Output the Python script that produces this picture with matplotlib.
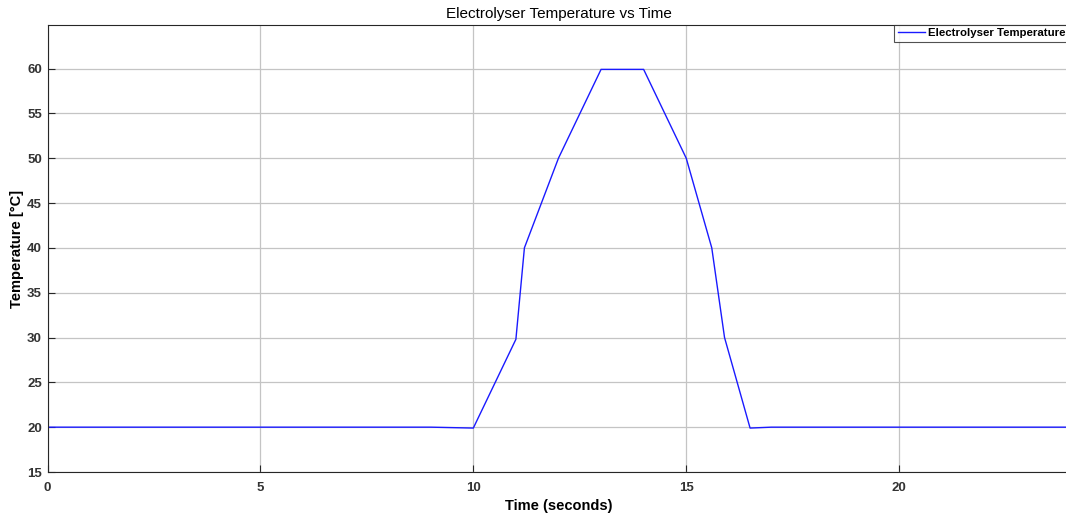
import matplotlib
matplotlib.use("Agg")
import matplotlib.pyplot as plt

# Electrolyser temperature profile (time in seconds, temperature in °C)
time_s = [0, 9, 10, 11, 11.2, 12, 13, 14, 15, 15.6, 15.9, 16.5, 17, 24]
temp_c = [20, 20, 19.9, 29.8, 40, 50, 59.9, 59.9, 50, 40, 30, 19.9, 20, 20]

x_ticks = [0, 5, 10, 15, 20]
y_ticks = [15, 20, 25, 30, 35, 40, 45, 50, 55, 60]

plt.rcParams['font.family'] = ['Liberation Sans', 'DejaVu Sans']

fig = plt.figure(figsize=(10.66, 5.2), dpi=100)
ax = fig.add_axes([0.0446, 0.0923, 0.9586, 0.8596])

ax.plot(time_s, temp_c, color='#1a1aff', linewidth=1.0, label='Electrolyser Temperature')

ax.set_xlim(0, 24)
ax.set_ylim(15, 64.85)
ax.set_xticks(x_ticks)
ax.set_yticks(y_ticks)

ax.grid(True, color='#c4c4c4', linewidth=0.9)
ax.set_axisbelow(True)
ax.tick_params(direction='in', length=5, width=0.8, colors='#262626',
               labelcolor='#333333', labelsize=9.5)
ax.tick_params(axis='x', pad=7.5)
ax.tick_params(axis='y', pad=4)
for lbl in ax.get_xticklabels() + ax.get_yticklabels():
    lbl.set_fontweight('bold')
for sp in ax.spines.values():
    sp.set_color('#262626')
    sp.set_linewidth(0.8)

ax.set_title('Electrolyser Temperature vs Time', fontsize=11, color='#000000', pad=5)
ax.set_xlabel('Time (seconds)', fontsize=10.5, fontweight='bold', labelpad=3)
ax.set_ylabel('Temperature [°C]', fontsize=10.5, fontweight='bold', labelpad=2)

leg = ax.legend(loc='upper right', prop={'weight': 'bold', 'size': 8.2},
                frameon=True, fancybox=False, borderpad=0.3, handlelength=2.35,
                handletextpad=0.35, borderaxespad=0.0)
leg.get_frame().set_edgecolor('#262626')
leg.get_frame().set_linewidth(0.8)

fig.savefig('out.png', dpi=100, facecolor='white')
